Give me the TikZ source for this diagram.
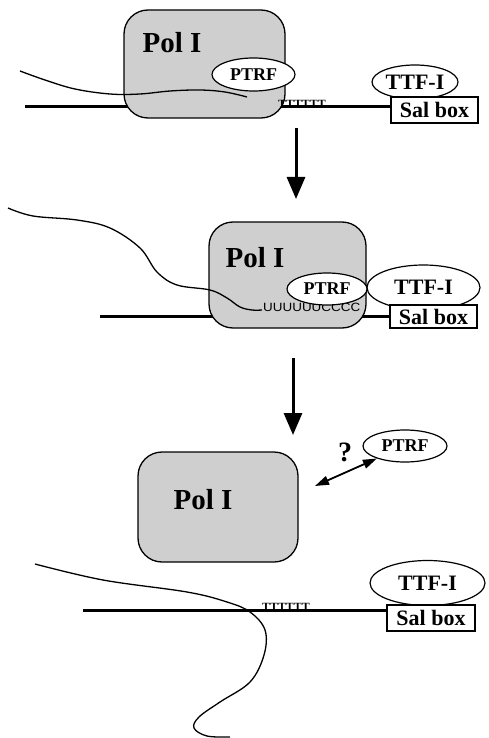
\documentclass[tikz,border=0pt]{standalone}
\usepackage{fontspec}
\setmainfont{Liberation Serif}
\newfontfamily\sansf{Liberation Sans}
\usetikzlibrary{shapes.geometric,arrows.meta}
\begin{document}
\begin{tikzpicture}[x=1pt,y=-1pt,
 polbox/.style={draw,line width=1.3pt,fill=black!19,rounded corners=24pt,inner sep=0pt},
 prot/.style={ellipse,draw,line width=1.2pt,fill=white,inner sep=0pt,font=\bfseries\fontsize{18}{18}\selectfont},
 ttf/.style={ellipse,draw,line width=1.2pt,fill=white,inner sep=0pt,font=\bfseries\fontsize{22}{22}\selectfont},
 salbox/.style={draw,line width=1.2pt,fill=white,inner sep=0pt,font=\bfseries\fontsize{22}{22}\selectfont},
 poltext/.style={inner sep=0pt,font=\bfseries\fontsize{29}{29}\selectfont},
 dna/.style={line width=3pt},
 rna/.style={line width=1.3pt,line join=round},
 tmarks/.style={inner sep=0pt,font=\bfseries\fontsize{11}{11}\selectfont,anchor=south west},
 steparrow/.style={line width=3pt,-{Triangle[width=18pt,length=22pt]}},
]
\useasboundingbox (0,0) rectangle (488,738);

% ---------- panel 1 ----------
\coordinate (dna1s) at (25,107);
\node[salbox,minimum width=87pt,minimum height=26pt] (sal1) at (434.5,110) {};
\draw[dna] (dna1s) -- (sal1.west |- dna1s);
\node[polbox,minimum width=161pt,minimum height=108pt] (pol1) at (204.5,64) {};
\node[poltext] (pol1t) at (172,43) {Pol I};
\node[tmarks] (t1) at (278,107.5) {\scalebox{1.08}[1]{TTTTTT}};
\draw[rna] plot[smooth,tension=0.6] coordinates {(20,71) (45,80) (75,89) (110,94) (140,94) (170,91) (200,90) (225,92) (247,97)};
\node[prot,minimum width=83pt,minimum height=33pt] (ptrf1) at (253.5,74.5) {PTRF};
\node[ttf,minimum width=86pt,minimum height=34pt] (ttf1) at (415,82) {TTF-I};
\node[salbox,minimum width=87pt,minimum height=26pt] (sal1b) at (434.5,110) {Sal box};

% arrow 1
\coordinate (a1s) at (296,128);
\coordinate (a1e) at (296,199);
\draw[steparrow] (a1s) -- (a1e);

% ---------- panel 2 ----------
\coordinate (dna2s) at (100,316);
\node[salbox,minimum width=87pt,minimum height=23pt] (sal2) at (433.5,316.5) {};
\draw[dna] (dna2s) -- (sal2.west |- dna2s);
\node[polbox,minimum width=157pt,minimum height=106pt] (pol2) at (287.5,275) {};
\node[poltext] (pol2t) at (255,258) {Pol I};
\draw[rna] plot[smooth,tension=0.6] coordinates {(8,208) (33,216) (77,220) (110,228) (140,248) (157,272) (177,285) (210,290) (227,298) (240,307) (252,310) (262,310)};
\node[inner sep=0pt,anchor=base west,font=\sansf\fontsize{12}{12}\selectfont] (u2) at (263,311) {\scalebox{1.12}[1]{UUUUUUCCCC}};
\node[ttf,minimum width=113pt,minimum height=45pt] (ttf2) at (423.5,287.5) {TTF-I};
\node[prot,minimum width=80pt,minimum height=32pt] (ptrf2) at (327,289) {PTRF};
\node[salbox,minimum width=87pt,minimum height=23pt] (sal2b) at (433.5,316.5) {Sal box};

% arrow 2
\coordinate (a2s) at (293,358);
\coordinate (a2e) at (293,435);
\draw[steparrow] (a2s) -- (a2e);

% ---------- panel 3 ----------
\node[polbox,minimum width=160pt,minimum height=110pt] (pol3) at (218,507) {};
\node[poltext] (pol3t) at (203,500) {Pol I};
\node[prot,minimum width=84pt,minimum height=32pt] (ptrf3) at (405,446) {PTRF};
\node[inner sep=0pt,font=\bfseries\fontsize{28}{28}\selectfont] (q) at (345,452) {?};
\coordinate (dbl) at (315,486);
\draw[line width=1.8pt,{Triangle[width=9pt,length=14pt]}-{Triangle[width=9pt,length=14pt]}] (dbl) -- (ptrf3);

\coordinate (dna3s) at (83,610);
\node[ttf,minimum width=115pt,minimum height=45pt] (ttf3) at (427.5,583) {TTF-I};
\node[salbox,minimum width=88pt,minimum height=26pt] (sal3) at (431,618) {Sal box};
\draw[dna] (dna3s) -- (sal3.west |- dna3s);
\node[tmarks] (t3) at (262,610.5) {\scalebox{1.08}[1]{TTTTTT}};
\draw[rna] plot[smooth,tension=0.6] coordinates {(35,564) (103,580) (187,592) (227,602) (250,612) (265,630) (264,655) (250,682) (220,702) (199,717) (194,728) (207,736) (230,737)};
\end{tikzpicture}
\end{document}
